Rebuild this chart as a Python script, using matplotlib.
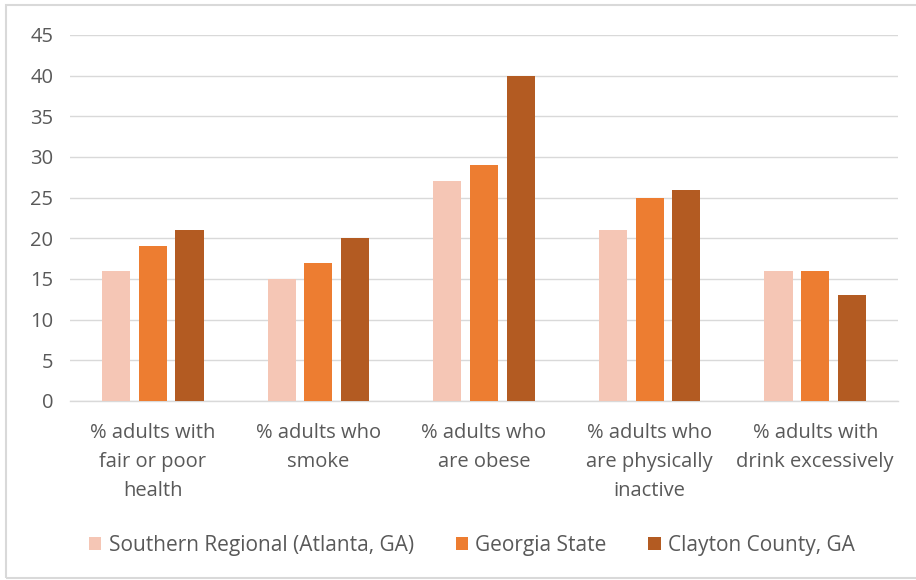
import numpy as np
import matplotlib.pyplot as plt
from matplotlib.patches import Rectangle

# Datos
categorias = ['% adults with\nfair or poor\nhealth',
              '% adults who\nsmoke',
              '% adults who\nare obese',
              '% adults who\nare physically\ninactive',
              '% adults with\ndrink excessively']
southern = [16, 15, 27, 21, 16]
georgia = [19, 17, 29, 25, 16]
clayton = [21, 20, 40, 26, 13]
series = ['Southern Regional (Atlanta, GA)', 'Georgia State', 'Clayton County, GA']
colores = ['#F5C6B5', '#ED7D31', '#B35B22']
gris = '#595959'

plt.rcParams['font.family'] = ['Open Sans', 'DejaVu Sans']

fig = plt.figure(figsize=(9.16, 5.8), dpi=100)
fig.patch.set_facecolor('white')
ax = fig.add_axes([70 / 916, 1 - 401 / 580, 828 / 916, 366 / 580])

x = np.arange(len(categorias))
ancho = 0.17
paso = 0.222
for i, (vals, nombre, c) in enumerate(zip([southern, georgia, clayton], series, colores)):
    ax.bar(x + (i - 1) * paso, vals, width=ancho, color=c, label=nombre, zorder=3)

ax.set_xlim(-0.5, len(categorias) - 0.5)
ax.set_ylim(0, 45)
ax.set_yticks(range(0, 46, 5))
ax.yaxis.grid(True, color='#D9D9D9', linewidth=1, zorder=0)
for s in ['top', 'right', 'left']:
    ax.spines[s].set_visible(False)
ax.spines['bottom'].set_color('#D9D9D9')
ax.spines['bottom'].set_linewidth(1)
ax.tick_params(axis='both', length=0, colors=gris, labelsize=14.5)
ax.tick_params(axis='y', pad=12)
ax.tick_params(axis='x', pad=16)
ax.set_xticks(x)
ax.set_xticklabels(categorias, linespacing=1.58)

# Leyenda
ax.legend(loc='center', bbox_to_anchor=(472 / 916, (580 - 545) / 580), ncol=3,
          frameon=False, fontsize=15, labelcolor=gris, handlelength=0.6,
          handleheight=0.6, handletextpad=0.35, columnspacing=2.0,
          bbox_transform=fig.transFigure)

# Borde del gráfico
fig.patches.append(Rectangle((6 / 916, 2 / 580), 1, 573 / 580, transform=fig.transFigure,
                             fill=False, edgecolor='#D9D9D9', linewidth=1.5))

fig.savefig('out.png', dpi=100)
